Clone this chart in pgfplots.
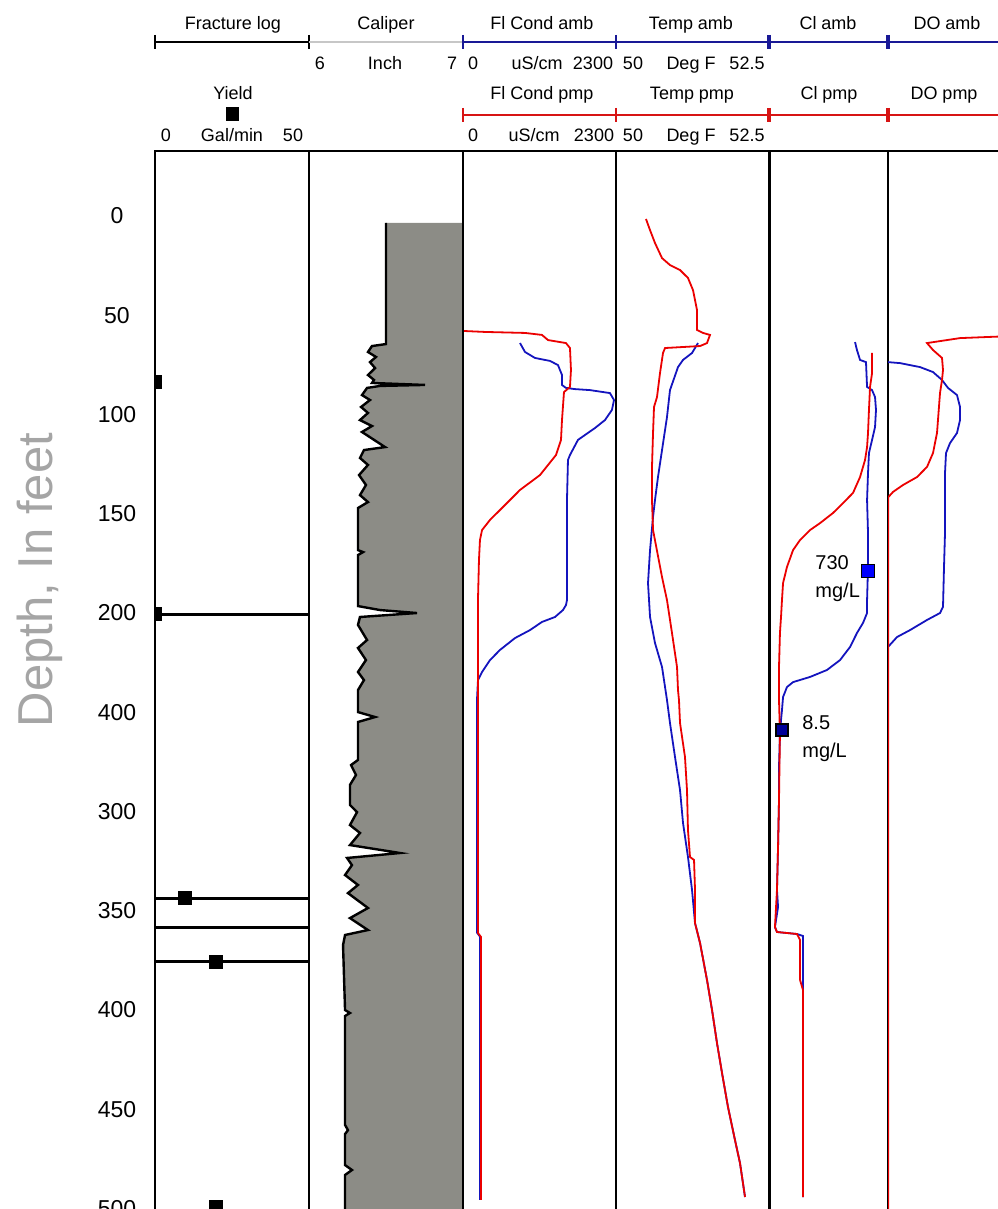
\documentclass[border=0pt]{standalone}
\usepackage{pgfplots}
\pgfplotsset{compat=1.18}
\usepackage{pgfplotstable}
\usepackage{fontspec}
\setmainfont{Liberation Sans}
\definecolor{cblue}{RGB}{20,20,190}
\definecolor{cred}{RGB}{235,0,0}
\definecolor{hblue}{RGB}{25,25,150}
\definecolor{hred}{RGB}{215,20,20}
\definecolor{calgray}{RGB}{140,140,134}
\definecolor{labgray}{RGB}{165,165,165}

\pgfplotsset{
  panel/.style={scale only axis, height=539.5pt, anchor=north west,
    y dir=reverse, ymin=-32.75, ymax=510.83, clip marker paths=true},
}

\pgfplotstableread{
inch depth
6.500 3.5
6.500 64.5
6.409 65.5
6.383 68.5
6.435 71.0
6.396 73.6
6.429 76.6
6.383 80.1
6.422 82.6
6.409 84.1
6.753 85.1
6.461 85.6
6.377 86.6
6.344 90.2
6.396 92.7
6.338 96.2
6.383 99.2
6.331 102.8
6.409 105.8
6.344 108.8
6.494 116.4
6.357 117.9
6.331 121.9
6.383 125.4
6.325 130.5
6.370 135.5
6.331 140.6
6.383 144.1
6.318 147.1
6.318 168.3
6.351 169.3
6.318 170.8
6.318 196.5
6.461 198.5
6.701 200.0
6.331 202.0
6.318 206.0
6.377 213.6
6.318 217.6
6.370 223.7
6.318 229.7
6.357 233.8
6.318 238.8
6.318 249.9
6.429 252.4
6.318 254.9
6.318 274.0
6.273 276.6
6.305 281.6
6.266 286.6
6.266 296.7
6.312 300.3
6.266 306.8
6.331 310.8
6.266 316.9
6.591 320.9
6.247 323.4
6.279 327.0
6.234 332.0
6.318 337.0
6.253 341.1
6.383 348.6
6.266 353.7
6.383 359.7
6.234 362.2
6.221 367.3
6.234 400.0
6.266 401.5
6.234 403.0
6.234 457.9
6.253 460.5
6.234 462.5
6.234 478.1
6.279 480.6
6.234 483.1
6.234 510.8
}\caliper

\begin{document}
\begin{tikzpicture}
\path[use as bounding box] (0,0) rectangle (498.5pt,-604.5pt);

% DO panel border first (red curve lies on it)
\begin{scope}[x=0.5pt,y=-0.5pt]
\draw[line width=1pt] (888,151) -- (888,1240);
\end{scope}

% ---------------- Fracture log / Yield
\begin{axis}[panel, at={(77.5pt,-75.5pt)}, width=77pt, xmin=0, xmax=50,
  axis x line=none, axis y line*=left, y axis line style={draw=none},
  major tick length=0pt,
  ytick={0,50,...,500},
  yticklabels={0,50,100,150,200,400,300,350,400,450,500},
  yticklabel style={anchor=center, xshift=-19pt, font=\fontsize{11.5}{12}\selectfont}]
\addplot[xcomb, black, line width=1.5pt, mark=none] coordinates {(50,200.5) (50,343.6) (50,358.4) (50,375.6)};
\addplot[only marks, mark=square*, mark size=3.2pt, black] coordinates {(0,83.6) (0,200.5) (9.7,343.6) (19.8,375.6) (19.8,499.2)};
\end{axis}

% ---------------- Caliper
\begin{axis}[panel, hide axis, at={(154.5pt,-75.5pt)}, width=77pt, xmin=6, xmax=7]
\addplot[fill=calgray, draw=none] table[x=inch, y=depth] {\caliper} -- (axis cs:7,510.8) -- (axis cs:7,3.5) -- cycle;
\addplot[black, line width=1.2pt, mark=none] table[x=inch, y=depth] {\caliper};
\end{axis}

% ---------------- Fluid conductivity
\begin{axis}[panel, hide axis, at={(231.5pt,-75.5pt)}, width=76.5pt, xmin=0, xmax=2300]
\addplot[cblue, line width=0.9pt, mark=none] coordinates {
(857,64.0) (932,68.5) (1082,71.5) (1308,73.0) (1428,75.1) (1488,80.1) (1488,85.1)
(1548,86.6) (1683,87.2) (1909,87.7) (2209,89.2) (2270,92.7) (2239,97.7) (2134,102.8)
(1984,106.8) (1834,110.3) (1728,112.8) (1608,120.4) (1578,122.9) (1563,143.1)
(1563,193.5) (1548,196.0) (1503,198.5) (1383,202.0) (1187,204.5) (1007,208.6)
(782,212.6) (556,218.6) (406,223.7) (286,229.7) (225,233.8) (210,243.8) (210,361)
(255,363) (255,495.7)};
\addplot[cred, line width=0.9pt, mark=none] coordinates {
(-40,57.9) (0,57.9) (331,58.4) (932,58.9) (1187,59.9) (1278,62.5) (1548,64.0) (1608,66.5)
(1623,77.6) (1608,86.1) (1518,88.7) (1488,102.8) (1473,112.8) (1398,120.4)
(1157,130.5) (857,138.0) (631,145.6) (406,153.1) (286,158.2) (255,163.2)
(240,173.3) (225,193.5) (225,361.2) (271,363.2) (271,495.7)};
\end{axis}

% ---------------- Temperature
\begin{axis}[panel, hide axis, at={(308pt,-75.5pt)}, width=76.5pt, xmin=50, xmax=52.5]
\addplot[cblue, line width=0.9pt, mark=none] coordinates {
(51.340,64.0) (51.242,69.0) (51.095,72.5) (51.013,76.1) (50.882,87.7) (50.833,101.3)
(50.752,117.9) (50.686,131.5) (50.637,143.1) (50.605,151.6) (50.556,168.3)
(50.523,184.9) (50.556,202.0) (50.637,215.1) (50.752,227.2) (50.833,243.8)
(50.882,255.4) (50.964,272.5) (51.046,289.2) (51.095,305.8) (51.176,322.9)
(51.242,339.5) (51.291,356.2) (51.373,366.2) (51.487,384.9) (51.569,400)
(51.650,416.6) (51.732,431.7) (51.830,448.9) (51.944,465.5) (52.026,477.1) (52.108,494.2)};
\addplot[cred, line width=0.9pt, mark=none] coordinates {
(50.490,1.5) (50.556,7.1) (50.637,13.6) (50.752,21.2) (50.882,24.7) (51.046,27.2)
(51.176,31.2) (51.258,37.3) (51.324,47.4) (51.324,57.4) (51.422,58.9) (51.536,59.9)
(51.487,64.0) (51.373,65.5) (50.801,66.5) (50.768,69.0) (50.719,79.1) (50.670,91.2)
(50.621,96.2) (50.605,109.3) (50.588,126.4) (50.588,143.1) (50.605,158.2)
(50.752,181.9) (50.833,193.5) (50.915,210.1) (50.997,227.2) (51.013,238.8)
(51.029,243.8) (51.046,255.4) (51.127,272.5) (51.160,289.2) (51.176,309.3)
(51.209,322.9) (51.275,324.4) (51.291,339.5) (51.291,356.2) (51.373,366.2)
(51.487,384.9) (51.569,400) (51.650,416.6) (51.732,431.7) (51.830,448.9)
(51.944,465.5) (52.026,477.1) (52.108,494.2)};
\end{axis}

% ---------------- Chloride
\begin{axis}[panel, hide axis, at={(384.5pt,-75.5pt)}, width=59.5pt, xmin=0, xmax=100]
\addplot[cblue, line width=0.9pt, mark=none] coordinates {
(72.3,63.5) (73.9,67.5) (76.5,72.5) (81.5,73.6) (82.4,86.1) (86.6,87.7) (89.1,91.2)
(89.9,97.7) (89.1,106.3) (86.6,112.8) (84.0,119.4) (83.2,129.5) (82.4,143.1)
(83.2,159.7) (83.2,176.8) (82.4,193.5) (82.4,200.0) (79.0,205.0) (73.9,210.1)
(68.1,217.1) (59.7,223.7) (48.7,228.7) (34.5,232.2) (20.2,234.8) (15.1,237.3)
(11.8,242.3) (10.9,248.9) (10.1,253.9) (9.2,260.5) (8.4,277.6) (8.4,294.2)
(7.6,317.9) (6.7,339.5) (7.6,348.1) (5.0,358.2) (6.7,360.7) (23.5,361.7)
(28.6,362.7) (28.6,371.3) (28.6,401.5) (28.6,451.9) (28.6,494.2)};
\addplot[cred, line width=0.9pt, mark=none] coordinates {
(86.6,69.0) (86.6,79.1) (84.9,86.1) (84.0,97.7) (83.2,109.3) (82.4,116.4)
(80.7,122.9) (76.5,131.5) (70.6,139.5) (62.2,144.6) (53.8,149.6) (42.9,154.7)
(34.5,158.2) (26.1,163.2) (20.2,168.3) (15.1,176.8) (11.8,184.9) (10.9,193.5)
(10.1,202.0) (9.2,210.1) (8.4,227.2) (8.4,243.8) (9.2,260.5) (8.4,294.2)
(7.6,317.9) (6.7,339.5) (5.0,358.2) (6.7,360.7) (23.5,361.7) (26.1,364.7)
(26.1,384.9) (28.6,390) (28.6,494.2)};
\addplot[only marks, mark=square*, mark size=3.3pt, mark options={fill=blue, draw=black, line width=0.8pt}] coordinates {(83.2,178.8)};
\addplot[only marks, mark=square*, mark size=3pt, mark options={fill=blue!60!black, draw=black, line width=0.8pt}] coordinates {(10.9,259.0)};
\node[anchor=west, inner sep=0pt, font=\fontsize{10}{12}\selectfont] at (axis cs:38.7,174.8) {730};
\node[anchor=west, inner sep=0pt, font=\fontsize{10}{12}\selectfont] at (axis cs:38.7,189.4) {mg/L};
\node[anchor=west, inner sep=0pt, font=\fontsize{10}{12}\selectfont] at (axis cs:27.7,255.4) {8.5};
\node[anchor=west, inner sep=0pt, font=\fontsize{10}{12}\selectfont] at (axis cs:27.7,270.0) {mg/L};
\end{axis}

% ---------------- Dissolved oxygen
\begin{axis}[panel, hide axis, at={(444pt,-75.5pt)}, width=61pt, xmin=0, xmax=122]
\addplot[cblue, line width=0.9pt, mark=none] coordinates {
(0,73.6) (12,74.1) (32,76.1) (45,78.6) (54,82.6) (60,86.6) (69,90.2) (72,96.2)
(72,102.8) (69,109.3) (62,114.4) (58,119.4) (57,129.5) (57,143.1) (57,159.7)
(56,176.8) (55,196.9) (52,200.0) (39,203.5) (22,208.6) (9,212.1) (0,217.1) (0,510)};
\addplot[cred, line width=0.9pt, mark=none] coordinates {
(122,60.5) (72,61.5) (39,64.0) (45,67.5) (54,71.5) (55,77.6) (54,82.6) (52,89.2)
(49,109.3) (45,119.4) (39,126.4) (29,131.5) (15,135.5) (5,139.0) (0.3,141.6) (0.3,510)};
\end{axis}

% ---------------- Frame and header
\begin{scope}[x=0.5pt,y=-0.5pt, font=\fontsize{9}{10}\selectfont]
\draw[line width=1.3pt] (154,151) -- (1000,151);
\foreach \xx in {155,309,463,616} {\draw[line width=1pt] (\xx,151) -- (\xx,1240);}
\draw[line width=1.5pt] (769,151) -- (769,1240);

% amb header line
\draw[line width=1pt] (155,42) -- (309,42);
\draw[line width=1pt] (155,35) -- (155,49) (309,35) -- (309,49);
\draw[black!22, line width=0.6pt] (309,42) -- (463,42);
\draw[hblue, line width=1pt] (463,42) -- (1000,42);
\draw[hblue, line width=1pt] (463,35) -- (463,49) (616,35) -- (616,49);
\draw[hblue, line width=1.6pt] (769,35) -- (769,49) (888,35) -- (888,49);
% pmp header line
\draw[hred, line width=1pt] (463,115) -- (1000,115);
\draw[hred, line width=1pt] (463,108) -- (463,122) (616,108) -- (616,122);
\draw[hred, line width=1.6pt] (769,108) -- (769,122) (888,108) -- (888,122);
\fill[black] (226,107) rectangle (239,121);

\tikzset{h/.style={anchor=base, inner sep=0pt}}
\node[h] at (233,30) {Fracture log};
\node[h] at (386,30) {Caliper};
\node[h] at (542,30) {Fl Cond amb};
\node[h] at (691,30) {Temp amb};
\node[h] at (828,30) {Cl amb};
\node[h] at (947,30) {DO amb};

\node[h] at (320,70) {6};
\node[h] at (385,70) {Inch};
\node[h] at (452,70) {7};
\node[h] at (473,70) {0};
\node[h] at (537,70) {uS/cm};
\node[h] at (593,70) {2300};
\node[h] at (633,70) {50};
\node[h] at (691,70) {Deg F};
\node[h] at (747,70) {52.5};

\node[h] at (233,100) {Yield};
\node[h] at (542,100) {Fl Cond pmp};
\node[h] at (692,100) {Temp pmp};
\node[h] at (829,100) {Cl pmp};
\node[h] at (944,100) {DO pmp};

\node[h] at (166,142) {0};
\node[h] at (232,142) {Gal/min};
\node[h] at (293,142) {50};
\node[h] at (473,142) {0};
\node[h] at (534,142) {uS/cm};
\node[h] at (594,142) {2300};
\node[h] at (633,142) {50};
\node[h] at (691,142) {Deg F};
\node[h] at (747,142) {52.5};

\node[rotate=90, anchor=base, inner sep=0pt, text=labgray, font=\fontsize{24.5}{26}\selectfont] at (52,580) {Depth, In feet};
\end{scope}
\end{tikzpicture}
\end{document}
